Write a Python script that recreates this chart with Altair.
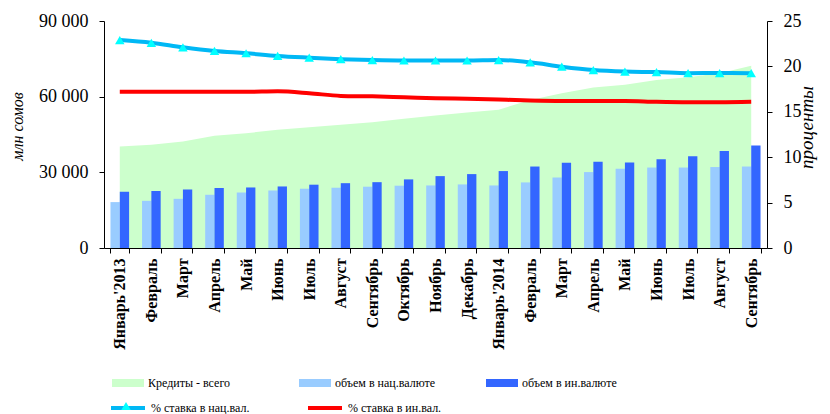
import altair as alt
import pandas as pd

months = ["Январь'2013", "Февраль", "Март", "Апрель", "Май", "Июнь", "Июль",
          "Август", "Сентябрь", "Октябрь", "Ноябрь", "Декабрь", "Январь'2014",
          "Февраль", "Март", "Апрель", "Май", "Июнь", "Июль", "Август", "Сентябрь"]

total = [40200, 40900, 42200, 44500, 45500, 46900, 47900, 48900, 49900, 51200, 52500,
         53700, 54800, 58700, 61400, 63600, 64700, 66600, 67700, 69300, 72300]
nat = [18200, 18700, 19500, 21100, 22000, 22800, 23500, 23900, 24300, 24700, 24800,
       25200, 24800, 26000, 27950, 30100, 31400, 31900, 31900, 32100, 32300]
foreign = [22300, 22600, 23200, 23800, 24000, 24400, 25100, 25700, 26100, 27200, 28500,
           29300, 30500, 32300, 33800, 34200, 33900, 35200, 36400, 38500, 40600]
rate_nat = [22.9, 22.6, 22.1, 21.7, 21.45, 21.15, 20.96, 20.8, 20.7, 20.65, 20.65,
            20.65, 20.7, 20.45, 19.97, 19.6, 19.43, 19.37, 19.25, 19.27, 19.25]
rate_for = [17.2, 17.2, 17.2, 17.2, 17.2, 17.25, 17.05, 16.75, 16.7, 16.6, 16.5,
            16.45, 16.35, 16.25, 16.2, 16.2, 16.2, 16.1, 16.05, 16.05, 16.1]

S_TOTAL = "Кредиты - всего"
S_NAT = "объем в нац.валюте"
S_FOR = "объем в ин.валюте"
L_NAT = "% ставка в нац.вал."
L_FOR = "% ставка в ин.вал."

keys = [f"{i:02d}|{m}" for i, m in enumerate(months)]

area_df = pd.DataFrame({"key": keys, "value": total, "series": S_TOTAL})
bars_df = pd.concat([
    pd.DataFrame({"key": keys, "value": nat, "series": S_NAT}),
    pd.DataFrame({"key": keys, "value": foreign, "series": S_FOR}),
])
lines_df = pd.concat([
    pd.DataFrame({"key": keys, "value": rate_nat, "series": L_NAT}),
    pd.DataFrame({"key": keys, "value": rate_for, "series": L_FOR}),
])
mk_df = pd.DataFrame({"key": keys, "value": rate_nat, "mk": "▲"})

FONT = "Liberation Serif"

x_enc = alt.X(
    "key:N", sort=keys,
    scale=alt.Scale(paddingInner=0.41, paddingOuter=0.205),
    axis=alt.Axis(
        title=None, labelAngle=-90, labelAlign="right", labelBaseline="middle",
        labelExpr="split(datum.label, '|')[1]",
        labelFont=FONT, labelFontSize=16, labelFontWeight="bold", labelColor="black",
        tickBand="extent", tickSize=5, tickColor="black", domainColor="black",
        labelPadding=5, labelLimit=200,
    ),
)

fill_scale = alt.Scale(domain=[S_TOTAL, S_NAT, S_FOR],
                       range=["#CCFFCC", "#99CCFF", "#3366FF"])
left_scale = alt.Scale(domain=[0, 90000], nice=False)
right_scale = alt.Scale(domain=[0, 25], nice=False)

left_axis = alt.Axis(
    values=[0, 30000, 60000, 90000],
    labelExpr="replace(format(datum.value, ','), ',', ' ')",
    labelFont=FONT, labelFontSize=18, labelColor="black", labelPadding=11,
    tickSize=5, tickColor="black", domainColor="black", grid=False,
    title="млн сомов", titleFont=FONT, titleFontSize=16, titleFontStyle="italic",
    titleFontWeight="normal", titleColor="black", titlePadding=13, titleY=105,
)
right_axis = alt.Axis(
    orient="right", values=[0, 5, 10, 15, 20, 25],
    labelFont=FONT, labelFontSize=18, labelColor="black", labelPadding=11,
    tickSize=5, tickColor="black", domainColor="black", grid=False,
    title="проценты", titleFont=FONT, titleFontSize=19, titleFontStyle="italic",
    titleFontWeight="normal", titleColor="black", titlePadding=15, titleAngle=270,
    titleY=106,
)

fill_legend = alt.Legend(
    title=None, orient="none", legendX=8, legendY=346, direction="horizontal",
    columns=3, gridAlign="all", columnPadding=50, padding=0,
    symbolType="M-1,-0.25L1,-0.25L1,0.25L-1,0.25Z", symbolSize=1024,
    symbolStrokeWidth=0, symbolOpacity=1,
    labelFont=FONT, labelFontSize=12, labelColor="black", labelOffset=4, labelLimit=300,
)
stroke_legend = alt.Legend(
    title=None, orient="none", legendX=5, legendY=368, direction="horizontal",
    columns=2, gridAlign="all", columnPadding=50, padding=0,
    symbolType="stroke", symbolSize=1156, symbolStrokeWidth=4,
    labelFont=FONT, labelFontSize=12, labelColor="black", labelOffset=4, labelLimit=300,
)
shape_legend = alt.Legend(
    title=None, orient="none", legendX=17, legendY=380, padding=0, zindex=2,
    symbolSize=90, symbolFillColor="#00FFFF", symbolStrokeColor="#00FFFF",
    symbolStrokeWidth=0, labelExpr="''", labelFontSize=1,
)

area = alt.Chart(area_df).mark_area(opacity=1).encode(
    x=x_enc,
    y=alt.Y("value:Q", scale=left_scale, axis=left_axis),
    fill=alt.Fill("series:N", scale=fill_scale, legend=fill_legend),
)
bars = alt.Chart(bars_df).mark_bar(opacity=1).encode(
    x=x_enc,
    xOffset=alt.XOffset("series:N", scale=alt.Scale(domain=[S_NAT, S_FOR], paddingInner=0, paddingOuter=0)),
    y=alt.Y("value:Q", scale=left_scale, axis=left_axis),
    fill=alt.Fill("series:N", scale=fill_scale, legend=fill_legend),
)
lines = alt.Chart(lines_df).mark_line(interpolate="monotone", strokeWidth=4).encode(
    x=x_enc,
    y=alt.Y("value:Q", scale=right_scale, axis=right_axis),
    stroke=alt.Stroke("series:N",
                      scale=alt.Scale(domain=[L_NAT, L_FOR], range=["#00B8F5", "#FF0000"]),
                      legend=stroke_legend),
)
markers = alt.Chart(mk_df).mark_point(filled=True, size=90, fill="#00FFFF", opacity=1).encode(
    x=x_enc,
    y=alt.Y("value:Q", scale=right_scale, axis=right_axis),
    shape=alt.Shape("mk:N", scale=alt.Scale(domain=["▲"], range=["triangle-up"]),
                    legend=shape_legend),
)

left = alt.layer(area, bars)
right = alt.layer(lines, markers)

chart = alt.layer(left, right).resolve_scale(y="independent").properties(
    width=663, height=227,
    autosize=alt.AutoSizeParams(type="none"),
    padding={"left": 96, "top": 13, "right": 55, "bottom": 166},
    background="white",
).configure_view(stroke=None).configure_legend(labelFont=FONT)

chart.save("out.html", embed_options={"renderer": "svg", "actions": False})
